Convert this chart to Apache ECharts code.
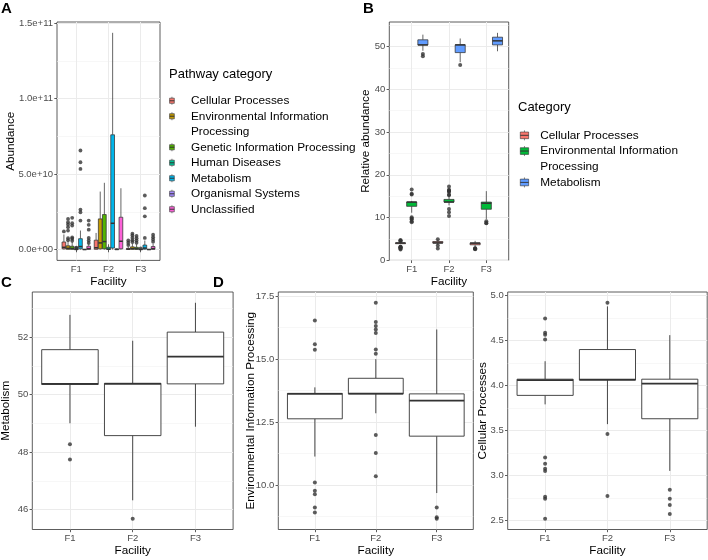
<!DOCTYPE html>
<html><head><meta charset="utf-8">
<script src="https://cdn.jsdelivr.net/npm/echarts@6/dist/echarts.min.js"></script>
<style>html,body{margin:0;padding:0;background:#fff}#c{width:708px;height:560px}</style>
</head><body><div id="c"></div>
<script>
// ---------------- DATA ----------------
const facilities = ['F1', 'F2', 'F3'];

// Panel A: [lower whisker, Q1, median, Q3, upper whisker] per facility
const pathwayCategories = ['Cellular Processes', 'Environmental Information Processing', 'Genetic Information Processing', 'Human Diseases', 'Metabolism', 'Organismal Systems', 'Unclassified'];
const pathwayColors = ['#F8766D', '#C49A00', '#53B400', '#00C094', '#00B6EB', '#A58AFF', '#FB61D7'];
const aCellular      = [[0, 0.05e10, 0.15e10, 0.50e10, 1.00e10], [0, 0.02e10, 0.12e10, 0.62e10, 1.10e10], [0, 0.01e10, 0.03e10, 0.08e10, 0.18e10]];
const aEnvironmental = [[0, 0.02e10, 0.08e10, 0.25e10, 0.55e10], [0, 0.05e10, 0.44e10, 2.03e10, 3.84e10], [0, 0.02e10, 0.06e10, 0.18e10, 0.40e10]];
const aGenetic       = [[0, 0.02e10, 0.07e10, 0.22e10, 0.50e10], [0, 0.05e10, 0.53e10, 2.32e10, 4.42e10], [0, 0.02e10, 0.05e10, 0.15e10, 0.35e10]];
const aHuman         = [[0, 0.003e10, 0.01e10, 0.03e10, 0.07e10], [0, 0.005e10, 0.03e10, 0.15e10, 0.35e10], [0, 0.002e10, 0.008e10, 0.02e10, 0.05e10]];
const aMetabolism    = [[0, 0.05e10, 0.20e10, 0.72e10, 1.26e10], [0, 0.10e10, 1.74e10, 7.60e10, 14.35e10], [0, 0.03e10, 0.10e10, 0.30e10, 0.60e10]];
const aOrganismal    = [[0, 0.001e10, 0.003e10, 0.008e10, 0.015e10], [0, 0.002e10, 0.01e10, 0.04e10, 0.08e10], [0, 0.001e10, 0.003e10, 0.01e10, 0.02e10]];
const aUnclassified  = [[0, 0.02e10, 0.06e10, 0.22e10, 0.40e10], [0, 0.05e10, 0.55e10, 2.14e10, 4.06e10], [0, 0.02e10, 0.06e10, 0.20e10, 0.40e10]];
// Panel A outliers per facility
const aCellularOut      = [[1.2e10], [], [0.30e10, 0.45e10, 0.60e10]];
const aEnvironmentalOut = [[0.62e10, 0.75e10, 1.26e10, 1.48e10, 1.66e10, 1.81e10, 2.03e10], [], [0.50e10, 0.62e10, 0.78e10, 0.93e10, 1.05e10]];
const aGeneticOut       = [[0.58e10, 0.72e10, 0.80e10, 1.59e10, 1.75e10, 2.10e10], [], [0.45e10, 0.60e10, 0.75e10, 0.90e10]];
const aHumanOut         = [[0.10e10, 0.12e10], [], [0.08e10]];
const aMetabolismOut    = [[1.92e10, 2.47e10, 2.65e10, 5.34e10, 5.78e10, 6.56e10], [], [0.77e10, 2.20e10, 2.74e10, 3.58e10]];
const aOrganismalOut    = [[], [], []];
const aUnclassifiedOut  = [[0.44e10, 0.60e10, 0.77e10, 1.32e10, 1.64e10, 1.92e10], [], [0.52e10, 0.67e10, 0.82e10, 0.98e10]];

// Panels B, C, D: relative abundance [lower whisker, Q1, median, Q3, upper whisker]
const mainCategories = ['Cellular Processes', 'Environmental Information Processing', 'Metabolism'];
const mainColors = ['#F8766D', '#00BA38', '#619CFF'];
const metabolismStats = [[49.00, 50.35, 50.37, 51.56, 52.77], [46.32, 48.57, 50.37, 50.39, 51.87], [48.88, 50.37, 51.32, 52.17, 53.19]];
const metabolismOut   = [[48.27, 47.74], [45.68], []];
const envStats = [[11.13, 12.63, 13.62, 13.64, 13.88], [12.85, 13.62, 13.63, 14.24, 15.00], [9.68, 11.94, 13.35, 13.62, 16.18]];
const envOut   = [[16.54, 15.59, 15.37, 10.10, 9.77, 9.63, 9.11, 8.91], [17.24, 16.48, 16.32, 16.18, 16.04, 15.38, 15.22, 11.99, 11.27, 10.35], [9.11, 8.72, 8.66]];
const cellularStats = [[3.79, 3.89, 4.06, 4.07, 4.27], [3.57, 4.06, 4.065, 4.40, 4.88], [3.05, 3.63, 4.02, 4.07, 4.56]];
const cellularOut   = [[4.746, 4.587, 4.565, 4.513, 3.20, 3.128, 3.073, 3.05, 2.762, 2.74, 2.518], [4.92, 3.46, 2.77], [2.84, 2.74, 2.67, 2.57]];

// Tick labels
const ticksA = [0, 5e10, 1e11, 1.5e11];           const ticksALabels = ['0.0e+00', '5.0e+10', '1.0e+11', '1.5e+11'];
const ticksB = [0, 10, 20, 30, 40, 50];            const ticksBLabels = ['0', '10', '20', '30', '40', '50'];
const ticksC = [46, 48, 50, 52];                   const ticksCLabels = ['46', '48', '50', '52'];
const ticksD1 = [10, 12.5, 15, 17.5];              const ticksD1Labels = ['10.0', '12.5', '15.0', '17.5'];
const ticksD2 = [2.5, 3.0, 3.5, 4.0, 4.5, 5.0];    const ticksD2Labels = ['2.5', '3.0', '3.5', '4.0', '4.5', '5.0'];

// ---------------- BUILD ----------------
const FONT = '"Liberation Sans", Arial, Helvetica, sans-serif';
const aStats = [aCellular, aEnvironmental, aGenetic, aHuman, aMetabolism, aOrganismal, aUnclassified];
const aOuts = [aCellularOut, aEnvironmentalOut, aGeneticOut, aHumanOut, aMetabolismOut, aOrganismalOut, aUnclassifiedOut];
const bStats = [cellularStats, envStats, metabolismStats];
const bOuts = [cellularOut, envOut, metabolismOut];

function rangeOf(statsList, outList) {
  let lo = Infinity, hi = -Infinity;
  statsList.forEach(s => s.forEach(r => r.forEach(v => { lo = Math.min(lo, v); hi = Math.max(hi, v); })));
  outList.forEach(o => o.forEach(r => r.forEach(v => { lo = Math.min(lo, v); hi = Math.max(hi, v); })));
  const pad = (hi - lo) * 0.05;
  return [lo - pad, hi + pad];
}
function minorsOf(ticks, range) {
  const step = ticks[1] - ticks[0];
  const res = [];
  for (let i = -1; i < ticks.length; i++) {
    const v = ticks[0] + (i + 0.5) * step;
    if (v > range[0] && v < range[1]) res.push(v);
  }
  return res;
}

const grids = [
  { left: 57, top: 22, width: 103, height: 238.4 },
  { left: 389.3, top: 22, width: 119.4, height: 238.4 },
  { left: 32.3, top: 292, width: 200.8, height: 237.5 },
  { left: 278.3, top: 292, width: 195, height: 237.5 },
  { left: 507.7, top: 292, width: 199.5, height: 237.5 }
].map(g => Object.assign({ show: true, borderColor: '#333', borderWidth: 0.8, backgroundColor: '#fff', containLabel: false, outerBoundsMode: 'none' }, g));

const panelDefs = [
  { stats: aStats, outs: aOuts, ticks: ticksA, labels: ticksALabels, name: 'Abundance', gap: 40 },
  { stats: bStats, outs: bOuts, ticks: ticksB, labels: ticksBLabels, name: 'Relative abundance', gap: 18 },
  { stats: [metabolismStats], outs: [metabolismOut], ticks: ticksC, labels: ticksCLabels, name: 'Metabolism', gap: 20.5 },
  { stats: [envStats], outs: [envOut], ticks: ticksD1, labels: ticksD1Labels, name: 'Environmental Information Processing', gap: 22 },
  { stats: [cellularStats], outs: [cellularOut], ticks: ticksD2, labels: ticksD2Labels, name: 'Cellular Processes', gap: 19 }
];

const xAxes = [], yAxes = [];
panelDefs.forEach((p, g) => {
  const r = rangeOf(p.stats, p.outs);
  xAxes.push({
    type: 'value', gridIndex: g, min: 0.4, max: 3.6,
    axisLine: { show: false },
    axisTick: { show: true, customValues: [1, 2, 3], length: 2.7, lineStyle: { color: '#333', width: 0.8 } },
    axisLabel: { customValues: [1, 2, 3], formatter: v => facilities[Math.round(v) - 1], color: '#4D4D4D', fontSize: 9.5, margin: 3.5, fontFamily: FONT },
    splitLine: { show: true, lineStyle: { color: '#EBEBEB', width: 1 } },
    name: 'Facility', nameLocation: 'middle', nameGap: 15.5, nameMoveOverlap: false,
    nameTextStyle: { fontSize: 11.7, color: '#000', fontFamily: FONT }
  });
  yAxes.push({
    type: 'value', gridIndex: g, min: r[0], max: r[1], position: 'left',
    axisLine: { show: false },
    axisTick: { show: true, customValues: p.ticks, length: 2.7, lineStyle: { color: '#333', width: 0.8 } },
    axisLabel: { customValues: p.ticks, formatter: v => { const i = p.ticks.findIndex(t => Math.abs(t - v) < 1e-6 * Math.max(1, Math.abs(t))); return i >= 0 ? p.labels[i] : ''; }, color: '#4D4D4D', fontSize: 9.5, margin: 4, fontFamily: FONT },
    splitLine: { show: true, lineStyle: { color: '#EBEBEB', width: 1 } },
    name: p.name, nameLocation: 'middle', nameGap: p.gap, nameMoveOverlap: false,
    nameTextStyle: { fontSize: 11.7, color: '#000', fontFamily: FONT }
  });
  const mn = minorsOf(p.ticks, r);
  yAxes.push({
    type: 'value', gridIndex: g, min: r[0], max: r[1], position: 'left',
    axisLine: { show: false },
    axisTick: { show: false, customValues: mn },
    axisLabel: { show: false, customValues: mn },
    splitLine: { show: true, lineStyle: { color: '#F2F2F2', width: 0.6 } }
  });
});

function boxSeries(name, color, stats, g, offset, width, lw) {
  return {
    type: 'custom', name: name, xAxisIndex: g, yAxisIndex: 2 * g, z: 3,
    itemStyle: { color: color },
    data: stats.map((s, i) => [i + 1 + offset].concat(s)),
    renderItem: function (params, api) {
      const x = api.value(0);
      const lo = api.coord([x, api.value(1)]);
      const q1 = api.coord([x, api.value(2)]);
      const md = api.coord([x, api.value(3)]);
      const q3 = api.coord([x, api.value(4)]);
      const hi = api.coord([x, api.value(5)]);
      const left = api.coord([x - width / 2, api.value(3)])[0];
      const right = api.coord([x + width / 2, api.value(3)])[0];
      const stroke = '#333';
      return {
        type: 'group', children: [
          { type: 'line', shape: { x1: hi[0], y1: hi[1], x2: q3[0], y2: q3[1] }, style: { stroke: stroke, lineWidth: lw } },
          { type: 'line', shape: { x1: q1[0], y1: q1[1], x2: lo[0], y2: lo[1] }, style: { stroke: stroke, lineWidth: lw } },
          { type: 'rect', shape: { x: left, y: q3[1], width: right - left, height: Math.max(q1[1] - q3[1], 0.01) }, style: { fill: api.visual('color'), stroke: stroke, lineWidth: lw } },
          { type: 'line', shape: { x1: left, y1: md[1], x2: right, y2: md[1] }, style: { stroke: stroke, lineWidth: lw * 2 } }
        ]
      };
    }
  };
}
function outlierSeries(outs, g, offset, size) {
  const data = [];
  outs.forEach((vals, f) => vals.forEach(v => data.push([f + 1 + offset, v])));
  return { type: 'scatter', xAxisIndex: g, yAxisIndex: 2 * g, z: 4, symbol: 'circle', symbolSize: size, itemStyle: { color: '#333' }, data: data, silent: true };
}

const series = [];
// Panel A
const nA = pathwayCategories.length, dA = 0.9 / nA;
pathwayCategories.forEach((c, k) => {
  const off = (k - (nA - 1) / 2) * dA;
  series.push(boxSeries('A:' + c, pathwayColors[k], aStats[k], 0, off, dA * 0.9, 0.75));
  series.push(outlierSeries(aOuts[k], 0, off, 3.8));
});
series.push({ type: 'custom', name: 'A:Processing', xAxisIndex: 0, yAxisIndex: 0, data: [], itemStyle: { color: 'rgba(0,0,0,0)' }, renderItem: () => null });
// Panel B
const nB = mainCategories.length, dB = 0.9 / nB;
mainCategories.forEach((c, k) => {
  const off = (k - (nB - 1) / 2) * dB;
  series.push(boxSeries('B:' + c, mainColors[k], bStats[k], 1, off, dB * 0.9, 0.75));
  series.push(outlierSeries(bOuts[k], 1, off, 4));
});
series.push({ type: 'custom', name: 'B:Processing', xAxisIndex: 1, yAxisIndex: 2, data: [], itemStyle: { color: 'rgba(0,0,0,0)' }, renderItem: () => null });
// Panels C, D
[[metabolismStats, metabolismOut], [envStats, envOut], [cellularStats, cellularOut]].forEach((p, k) => {
  series.push(boxSeries('single' + k, '#fff', p[0], 2 + k, 0, 0.9, 0.9));
  series.push(outlierSeries(p[1], 2 + k, 0, 4));
});

const legendLabel = {};
const legendDataA = [];
pathwayCategories.forEach(c => {
  const nm = 'A:' + c;
  if (c === 'Environmental Information Processing') {
    legendLabel[nm] = 'Environmental Information';
    legendDataA.push(nm);
    legendLabel['A:Processing'] = 'Processing';
    legendDataA.push({ name: 'A:Processing', itemStyle: { opacity: 0, borderWidth: 0 } });
  } else { legendLabel[nm] = c; legendDataA.push(nm); }
});
const legendDataB = [];
mainCategories.forEach(c => {
  const nm = 'B:' + c;
  if (c === 'Environmental Information Processing') {
    legendLabel[nm] = 'Environmental Information';
    legendDataB.push(nm);
    legendLabel['B:Processing'] = 'Processing';
    legendDataB.push({ name: 'B:Processing', itemStyle: { opacity: 0, borderWidth: 0 } });
  } else { legendLabel[nm] = c; legendDataB.push(nm); }
});

const iconA = 'path://M0,3L10,3L10,8.5L0,8.5Z M0,8.5L10,8.5L10,14L0,14Z M5,0L5,3 M5,14L5,17';
const iconB = 'path://M0,2L10,2L10,6L0,6Z M0,6L10,6L10,10L0,10Z M5,0L5,2 M5,10L5,12';

const titleStyle = (t, left, top, size, weight) => ({ text: t, left: left, top: top, padding: 0, textStyle: { fontSize: size, fontWeight: weight, color: '#000', fontFamily: FONT } });

const option = {
  animation: false,
  backgroundColor: '#fff',
  textStyle: { fontFamily: FONT },
  title: [
    titleStyle('A', 1, 1, 15, 'bold'),
    titleStyle('B', 363, 1, 15, 'bold'),
    titleStyle('C', 1, 275, 15, 'bold'),
    titleStyle('D', 213, 275, 15, 'bold'),
    titleStyle('Pathway category', 169, 68, 13, 'normal'),
    titleStyle('Category', 518, 101, 13, 'normal')
  ],
  legend: [
    { orient: 'vertical', left: 169.3, top: 93.5, padding: 0, itemGap: 1, itemWidth: 28, itemHeight: 8, icon: iconA, symbolKeepAspect: true,
      selectedMode: false, itemStyle: { borderColor: '#333', borderWidth: 0.6 },
      textStyle: { fontSize: 11.8, color: '#000', lineHeight: 14.5, fontFamily: FONT },
      data: legendDataA, formatter: n => legendLabel[n] },
    { orient: 'vertical', left: 520, top: 128, padding: 0, itemGap: 1, itemWidth: 21.6, itemHeight: 10, icon: iconB, symbolKeepAspect: true,
      selectedMode: false, itemStyle: { borderColor: '#333', borderWidth: 0.6 },
      textStyle: { fontSize: 11.8, color: '#000', lineHeight: 14.7, fontFamily: FONT },
      data: legendDataB, formatter: n => legendLabel[n] }
  ],
  grid: grids,
  xAxis: xAxes,
  yAxis: yAxes,
  series: series
};
const chart = echarts.init(document.getElementById('c'), null, { renderer: 'canvas' });
chart.setOption(option);
</script></body></html>
